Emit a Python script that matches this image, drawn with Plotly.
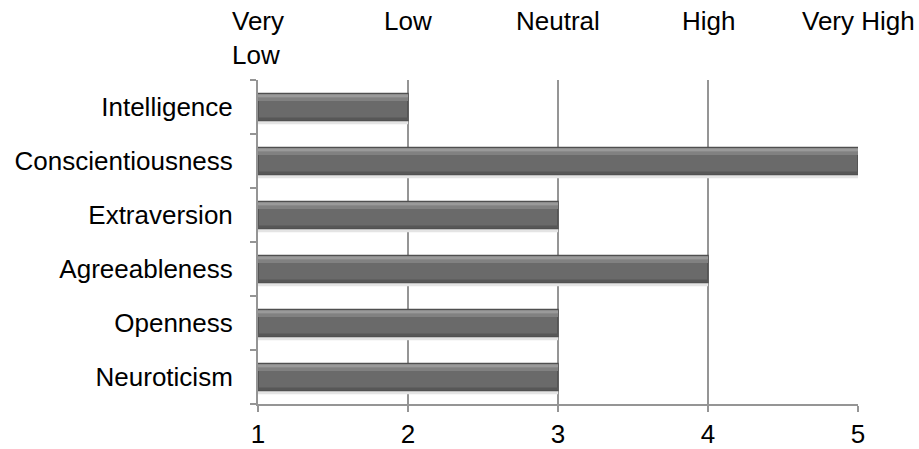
import plotly.graph_objects as go

categories = ["Neuroticism", "Openness", "Agreeableness", "Extraversion",
              "Conscientiousness", "Intelligence"]
values = [3, 3, 4, 3, 5, 2]
x_ticks = [1, 2, 3, 4, 5]
top_labels = ["Very<br>Low", "Low", "Neutral", "High", "Very High"]

FONT = "Liberation Sans, Arial, sans-serif"
lengths = [v - 1 for v in values]

fig = go.Figure()

# soft shadow under bars
fig.add_trace(go.Bar(y=categories, x=lengths, base=1, orientation="h",
                     width=0.07, offset=-0.32,
                     marker=dict(color="#e4e4e4", line=dict(width=0)),
                     hoverinfo="skip", showlegend=False))
# main bar
fig.add_trace(go.Bar(y=categories, x=lengths, base=1, orientation="h",
                     width=0.5, offset=-0.25,
                     marker=dict(color="#6a6a6a", line=dict(color="#4f4f4f", width=1.5)),
                     showlegend=False))
# highlight strips (bevel)
fig.add_trace(go.Bar(y=categories, x=lengths, base=1, orientation="h",
                     width=0.07, offset=0.11,
                     marker=dict(color="#818181", line=dict(width=0)),
                     hoverinfo="skip", showlegend=False))
fig.add_trace(go.Bar(y=categories, x=lengths, base=1, orientation="h",
                     width=0.06, offset=0.175,
                     marker=dict(color="#9a9a9a", line=dict(width=0)),
                     hoverinfo="skip", showlegend=False))
# bottom dark strip
fig.add_trace(go.Bar(y=categories, x=lengths, base=1, orientation="h",
                     width=0.05, offset=-0.245,
                     marker=dict(color="#575757", line=dict(width=0)),
                     hoverinfo="skip", showlegend=False))

for xv, lab in zip(x_ticks, top_labels):
    fig.add_annotation(x=xv, y=1.0, xref="x", yref="paper", text=lab,
                       showarrow=False, xanchor="center", yanchor="top",
                       yshift=76, align="left",
                       font=dict(family=FONT, size=26, color="black"))

fig.update_layout(
    width=919, height=449,
    margin=dict(l=258, r=61, t=80, b=45, autoexpand=False),
    paper_bgcolor="white", plot_bgcolor="white",
    barmode="overlay",
    font=dict(family=FONT, size=26, color="black"),
    xaxis=dict(range=[1, 5], tickvals=x_ticks, showgrid=True,
               gridcolor="#959595", gridwidth=2,
               showline=True, linecolor="#959595", linewidth=2,
               ticks="outside", ticklen=6, tickcolor="#959595", tickwidth=2,
               ticklabelstandoff=0, automargin=False,
               zeroline=False, fixedrange=True),
    yaxis=dict(categoryorder="array", categoryarray=categories,
               showline=True, linecolor="#959595", linewidth=2,
               ticks="outside", ticklen=6, tickcolor="#959595", tickwidth=2,
               tickson="boundaries", showgrid=False, zeroline=False,
               ticklabelstandoff=18, automargin=False,
               range=[-0.5, len(categories) - 0.5], fixedrange=True),
)

fig.write_html("out.html", config={"displayModeBar": False},
               post_script="document.body.style.margin='0';document.body.style.overflow='hidden';")
